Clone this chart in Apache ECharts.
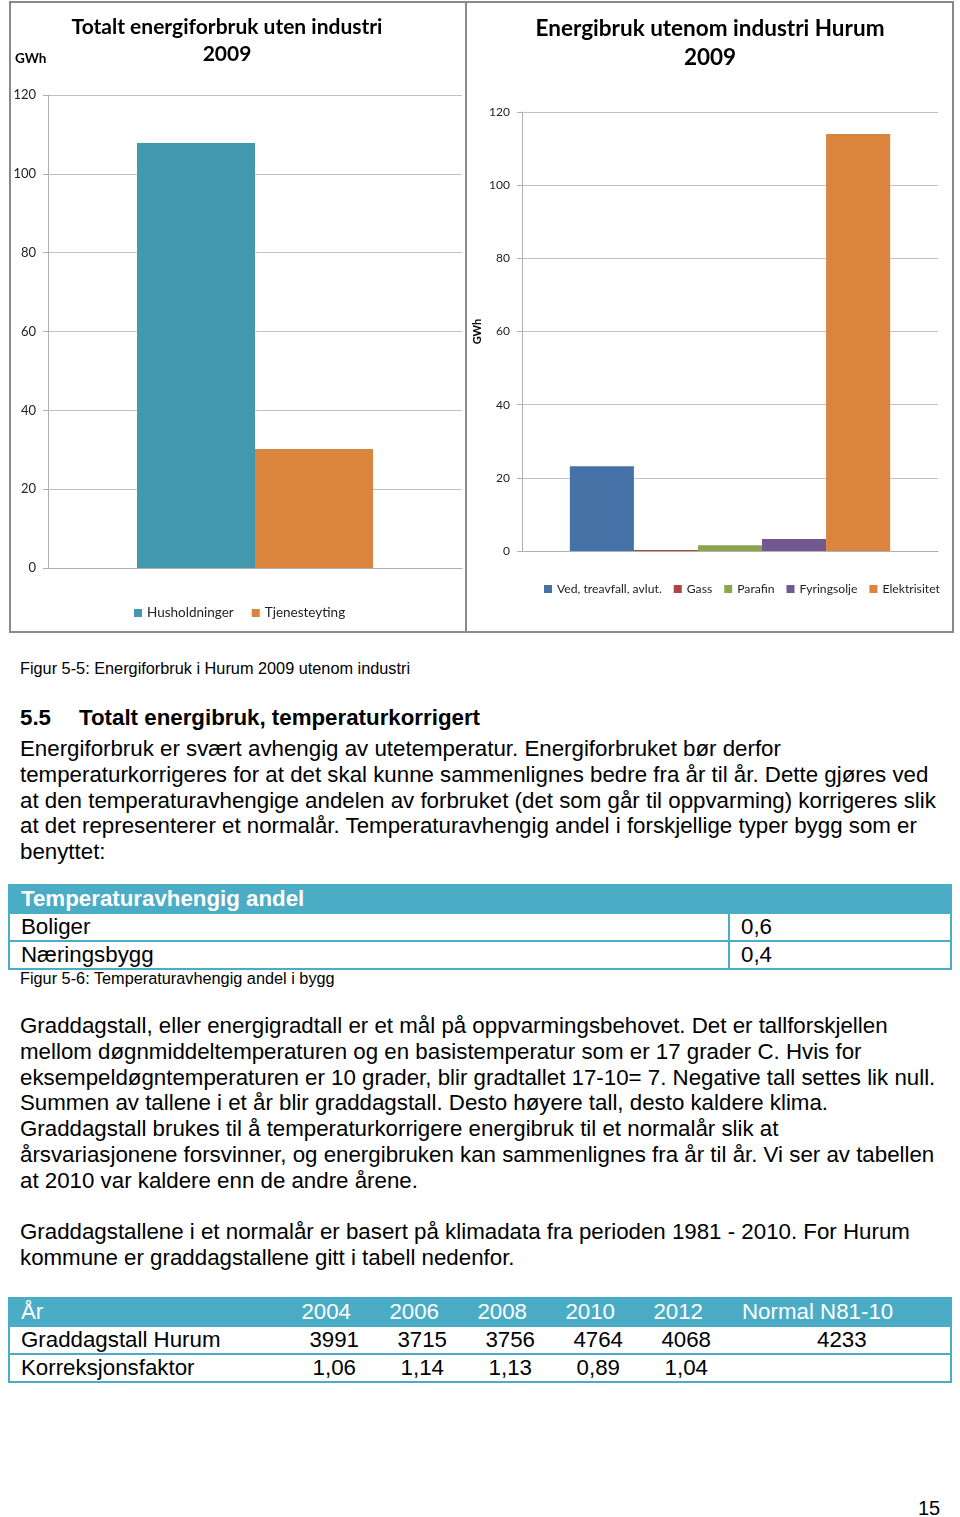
<!DOCTYPE html>
<html><head><meta charset="utf-8">
<script src="https://cdn.jsdelivr.net/npm/echarts@6/dist/echarts.min.js"></script>
<style>
html,body{margin:0;padding:0;background:#fff;}
body{width:960px;height:1517px;position:relative;overflow:hidden;font-family:"Liberation Sans",Arial,sans-serif;color:#000;}
#chart{position:absolute;left:0;top:0;width:960px;height:640px;}
.abs{position:absolute;white-space:nowrap;}
.cap{font-size:16.3px;line-height:20px;left:20px;}
.para{font-size:22.3px;line-height:25.8px;left:20px;}
.h{font-size:22.3px;font-weight:bold;line-height:26px;left:20px;}
table{border-collapse:collapse;position:absolute;font-size:22.3px;table-layout:fixed;}
td{padding:0;height:26px;line-height:26px;white-space:nowrap;overflow:visible;}
#t1 td{border:2px solid #4BACC6;padding-left:11px;}
#t2 td{border-top:2px solid #4BACC6;border-bottom:2px solid #4BACC6;}
#t2 td.first{border-left:2px solid #4BACC6;padding-left:11px;}
#t2 td.last{border-right:2px solid #4BACC6;}
tr.hd td{background:#4BACC6;color:#fff;}
</style></head>
<body>
<div id="chart"></div>
<div class="abs cap" style="top:658px">Figur 5-5: Energiforbruk i Hurum 2009 utenom industri</div>
<div class="abs h" style="top:705px"><span style="display:inline-block;width:59px">5.5</span>Totalt energibruk, temperaturkorrigert</div>
<div class="abs para" style="top:736px">Energiforbruk er svært avhengig av utetemperatur. Energiforbruket bør derfor<br>temperaturkorrigeres for at det skal kunne sammenlignes bedre fra år til år. Dette gjøres ved<br>at den temperaturavhengige andelen av forbruket (det som går til oppvarming) korrigeres slik<br>at det representerer et normalår. Temperaturavhengig andel i forskjellige typer bygg som er<br>benyttet:</div>
<table id="t1" style="left:8px;top:884px;width:942px"><colgroup><col style="width:720px"><col style="width:222px"></colgroup></table>
<div class="abs cap" style="top:968px">Figur 5-6: Temperaturavhengig andel i bygg</div>
<div class="abs para" style="top:1013px">Graddagstall, eller energigradtall er et mål på oppvarmingsbehovet. Det er tallforskjellen<br>mellom døgnmiddeltemperaturen og en basistemperatur som er 17 grader C. Hvis for<br>eksempeldøgntemperaturen er 10 grader, blir gradtallet 17-10= 7. Negative tall settes lik null.<br>Summen av tallene i et år blir graddagstall. Desto høyere tall, desto kaldere klima.<br>Graddagstall brukes til å temperaturkorrigere energibruk til et normalår slik at<br>årsvariasjonene forsvinner, og energibruken kan sammenlignes fra år til år. Vi ser av tabellen<br>at 2010 var kaldere enn de andre årene.</div>
<div class="abs para" style="top:1219px">Graddagstallene i et normalår er basert på klimadata fra perioden 1981 - 2010. For Hurum<br>kommune er graddagstallene gitt i tabell nedenfor.</div>
<table id="t2" style="left:8px;top:1297px;width:942px"><colgroup><col style="width:270px"><col style="width:88px"><col style="width:88px"><col style="width:88px"><col style="width:88px"><col style="width:88px"><col style="width:232px"></colgroup></table>
<div class="abs" style="left:918px;top:1495px;font-size:20px;line-height:26px">15</div>
<script>
// ---- chart data ----
const leftTitle = ['Totalt energiforbruk uten industri', '2009'];
const rightTitle = ['Energibruk utenom industri Hurum', '2009'];
const leftSeriesNames = ['Husholdninger', 'Tjenesteyting'];
const leftValues = [107.8, 30.2];
const leftColors = ['#4198AF', '#DB843D'];
const rightSeriesNames = ['Ved, treavfall, avlut.', 'Gass', 'Parafin', 'Fyringsolje', 'Elektrisitet'];
const rightValues = [23.2, 0.3, 1.6, 3.3, 114.0];
const rightColors = ['#4572A7', '#AA4643', '#89A54E', '#71588F', '#DB843D'];
const yTicks = [0, 20, 40, 60, 80, 100, 120];
const unit = 'GWh';

// ---- table data ----
const t1Header = ['Temperaturavhengig andel', ''];
const t1Rows = [['Boliger', '0,6'], ['Næringsbygg', '0,4']];
const t2Years = ['2004', '2006', '2008', '2010', '2012'];
const t2NormalLabel = 'Normal N81-10';
const t2Graddag = ['3991', '3715', '3756', '4764', '4068'];
const t2Normal = '4233';
const t2Korr = ['1,06', '1,14', '1,13', '0,89', '1,04'];

// build tables
(function(){
  const t1 = document.getElementById('t1');
  let h = '<tr class="hd"><td style="font-weight:bold">' + t1Header[0] + '</td><td>' + t1Header[1] + '</td></tr>';
  t1Rows.forEach(r => { h += '<tr><td>' + r[0] + '</td><td>' + r[1] + '</td></tr>'; });
  t1.insertAdjacentHTML('beforeend', h);
  const t2 = document.getElementById('t2');
  let s = '<tr class="hd"><td class="first">År</td>';
  t2Years.forEach(y => { s += '<td style="text-align:right;padding-right:16px">' + y + '</td>'; });
  s += '<td class="last" style="padding-left:23px">' + t2NormalLabel + '</td></tr>';
  s += '<tr><td class="first">Graddagstall Hurum</td>';
  t2Graddag.forEach(v => { s += '<td style="text-align:right;padding-right:8px">' + v + '</td>'; });
  s += '<td class="last" style="padding-left:98px">' + t2Normal + '</td></tr>';
  s += '<tr><td class="first">Korreksjonsfaktor</td>';
  t2Korr.forEach(v => { s += '<td style="text-align:right;padding-right:11px">' + v + '</td>'; });
  s += '<td class="last"></td></tr>';
  t2.insertAdjacentHTML('beforeend', s);
})();

const chart = echarts.init(document.getElementById('chart'), null, {renderer: 'canvas'});
const font = 'Lato, "Open Sans", sans-serif';
function yAxis(idx, fs, extra) {
  return Object.assign({
    gridIndex: idx, type: 'value', min: yTicks[0], max: yTicks[yTicks.length - 1], interval: yTicks[1] - yTicks[0],
    axisLine: {show: true, lineStyle: {color: '#b0b0b0'}},
    axisTick: {show: true, length: 5, lineStyle: {color: '#b0b0b0'}},
    splitLine: {lineStyle: {color: '#c0c0c0'}},
    axisLabel: {color: '#222', fontFamily: font, fontSize: fs, margin: 12}
  }, extra || {});
}
function xAxis(idx) {
  return {
    gridIndex: idx, type: 'category', data: [''],
    axisLine: {lineStyle: {color: '#b0b0b0'}},
    axisTick: {show: false}, axisLabel: {show: false}
  };
}
const series = [];
leftSeriesNames.forEach((n, i) => series.push({
  name: n, type: 'bar', xAxisIndex: 0, yAxisIndex: 0, data: [leftValues[i]],
  itemStyle: {color: leftColors[i]}, barGap: '0%', barCategoryGap: '43%'
}));
rightSeriesNames.forEach((n, i) => series.push({
  name: n, type: 'bar', xAxisIndex: 1, yAxisIndex: 1, data: [rightValues[i]],
  itemStyle: {color: rightColors[i]}, barGap: '0%', barCategoryGap: '23%'
}));

chart.setOption({
  animation: false,
  color: leftColors.concat(rightColors),
  title: [
    {text: leftTitle.join('\n'), left: 227, top: 14, padding: 0, textAlign: 'center',
     textStyle: {fontFamily: font, fontSize: 21, fontWeight: 'bold', color: '#000', lineHeight: 27}},
    {text: rightTitle.join('\n'), left: 710, top: 14, padding: 0, textAlign: 'center',
     textStyle: {fontFamily: font, fontSize: 22.5, fontWeight: 'bold', color: '#000', lineHeight: 29}},
    {text: unit, left: 15, top: 52, padding: 0, textStyle: {fontFamily: font, fontSize: 13.5, fontWeight: 'bold', color: '#000'}}
  ],
  legend: [
    {data: leftSeriesNames, left: 129, top: 601, itemWidth: 8, itemHeight: 8, itemGap: 18,
     icon: 'rect', textStyle: {fontFamily: font, fontSize: 13.5, color: '#222'}},
    {data: rightSeriesNames, left: 539, top: 578, itemWidth: 8, itemHeight: 8, itemGap: 12,
     icon: 'rect', textStyle: {fontFamily: font, fontSize: 12.2, color: '#222'}}
  ],
  grid: [
    {left: 48, top: 95, width: 414, height: 473},
    {left: 522, top: 112, width: 416, height: 439}
  ],
  xAxis: [xAxis(0), xAxis(1)],
  yAxis: [
    yAxis(0, 13),
    yAxis(1, 12, {name: unit, nameLocation: 'middle', nameRotate: 90, nameGap: 39,
      nameTextStyle: {fontFamily: font, fontSize: 11, fontWeight: 'bold', color: '#000'}})
  ],
  series: series,
  graphic: [
    {type: 'rect', shape: {x: 10, y: 2, width: 456, height: 630}, style: {fill: 'none', stroke: '#8a8a8a', lineWidth: 2}, silent: true},
    {type: 'rect', shape: {x: 466, y: 2, width: 487, height: 630}, style: {fill: 'none', stroke: '#8a8a8a', lineWidth: 2}, silent: true}
  ]
});
</script>
</body></html>
